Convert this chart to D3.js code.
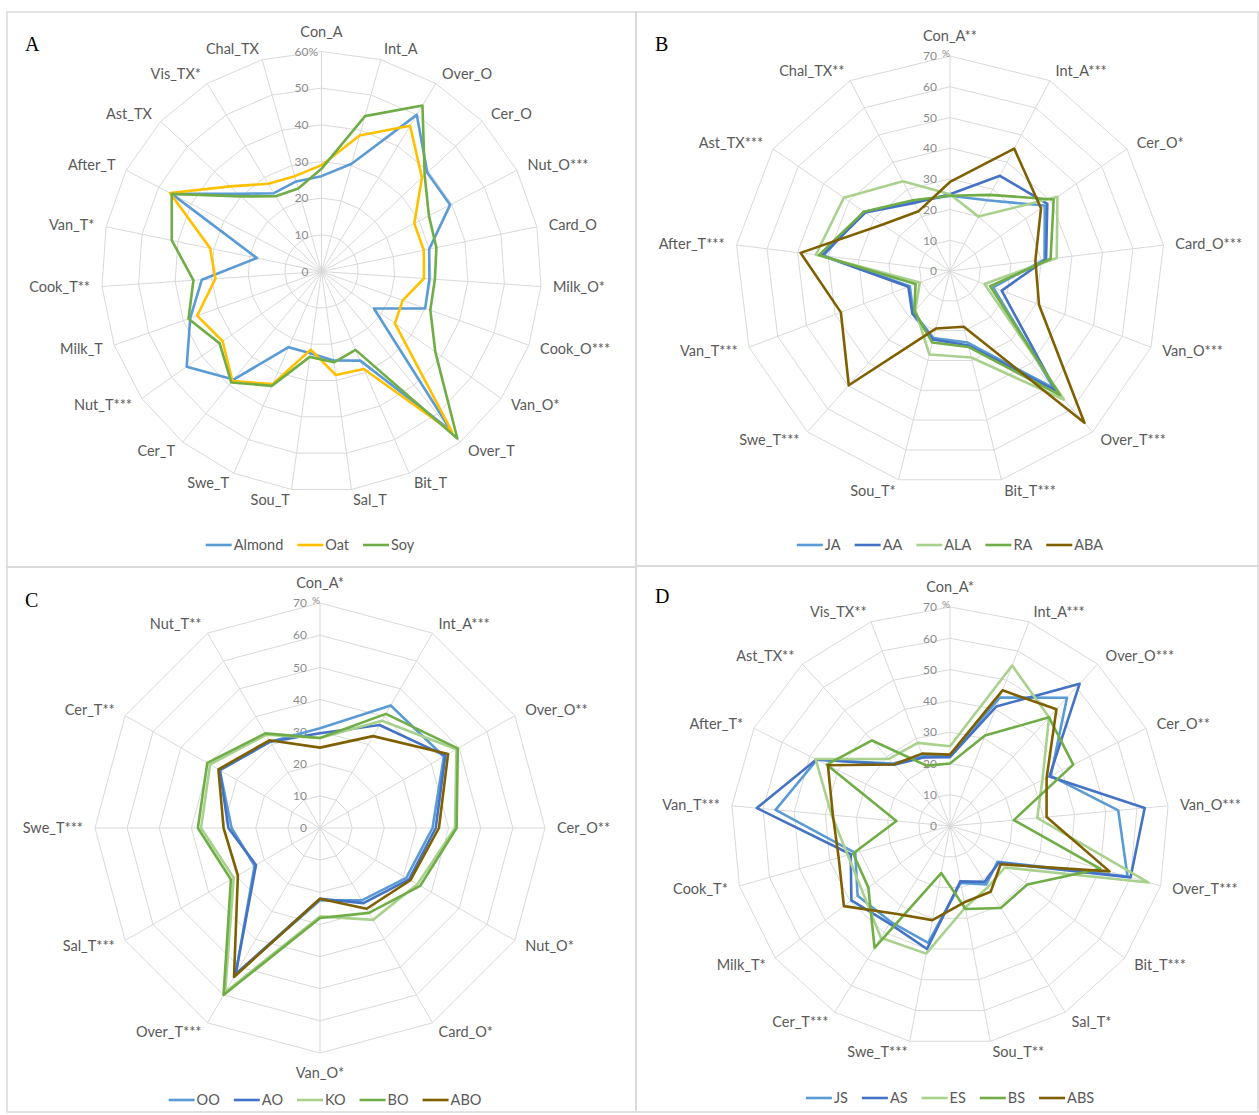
<!DOCTYPE html>
<html>
<head>
<meta charset="utf-8">
<script src="https://cdn.jsdelivr.net/npm/d3@7"></script>
<style>
  body { margin: 0; background: #fff; }
  text { font-family: Lato, "Liberation Sans", sans-serif; }
</style>
</head>
<body>
<div id="chart"></div>
<script>
// ---- data (values in %) ----
var catsA = ["Con_A", "Int_A", "Over_O", "Cer_O", "Nut_O***", "Card_O", "Milk_O*", "Cook_O***", "Van_O*",
  "Over_T", "Bit_T", "Sal_T", "Sou_T", "Swe_T", "Cer_T", "Nut_T***", "Milk_T", "Cook_T**", "Van_T*",
  "After_T", "Ast_TX", "Vis_TX*", "Chal_TX"];
var almond = [26, 30.5, 50, 39.5, 39.5, 30, 29.5, 30, 17.5, 56, 26.5, 24.5, 22.5, 22.5, 38, 45, 38, 32.7, 18, 46, 31, 25, 25.5];
var oat    = [29, 38.5, 46.5, 37.5, 28.5, 28.5, 28, 23.5, 24.5, 56.5, 29, 28.5, 21.5, 33.5, 38.5, 33, 36, 29, 31, 46.5, 34, 28, 27];
var soy    = [28, 44, 53, 38.5, 33, 32, 31, 31.5, 38, 58.7, 23.3, 25, 23.5, 34, 39, 34, 38.5, 35, 41.7, 46, 30, 24, 23.5];

var catsB = ["Con_A**", "Int_A***", "Cer_O*", "Card_O***", "Van_O***", "Over_T***", "Bit_T***", "Sou_T*",
  "Swe_T***", "Van_T***", "After_T***", "Ast_TX***", "Chal_TX**"];
var ja  = [24.5, 26, 37.5, 31, 15, 51, 24, 22.5, 18, 14, 41.5, 34, 25.5];
var aa  = [25, 35, 38.5, 31.5, 18, 52, 25, 23, 18.5, 14.5, 42, 33.5, 25];
var ala = [25, 20, 42.5, 35, 12, 56, 29, 28, 17, 10.5, 44, 42, 33];
var ra  = [24.5, 28, 41, 33, 14, 54, 25.5, 24, 17.5, 12, 43, 34, 26];
var aba = [29, 45, 36, 28, 31, 66, 18.7, 19.3, 49.7, 38, 49, 26.6, 22];

var catsC = ["Con_A*", "Int_A***", "Over_O**", "Cer_O**", "Nut_O*", "Card_O*", "Van_O*", "Over_T***",
  "Sal_T***", "Swe_T***", "Cer_T**", "Nut_T**"];
var oo  = [31, 44, 44.5, 35, 31, 26, 22.5, 52.5, 23.5, 27.5, 36, 31];
var ao  = [29.5, 37, 45, 36, 32, 27, 22, 52.5, 23, 28.5, 36, 31];
var ko  = [28, 38.5, 49, 42, 35, 33, 27.5, 59, 31, 37, 39.5, 33.5];
var bo  = [28, 41, 49.5, 42.5, 36, 30.5, 28, 60, 32, 38, 40.5, 34];
var abo = [25, 33, 46, 37, 32.5, 29, 22, 53.5, 29.5, 30, 36.5, 31.5];

var catsD = ["Con_A*", "Int_A***", "Over_O***", "Cer_O**", "Van_O***", "Over_T***", "Bit_T***", "Sal_T*",
  "Sou_T**", "Swe_T***", "Cer_T***", "Milk_T*", "Cook_T*", "Van_T***", "After_T*", "Ast_TX**", "Vis_TX**"];
var js  = [22.5, 44, 55.5, 36, 54, 59, 19, 22, 18.5, 38, 36, 37, 31.5, 56, 47.5, 27, 24];
var as  = [22, 41, 61.5, 35.5, 62.5, 60, 19.5, 21, 18, 40, 36.7, 39.5, 33, 62, 47.7, 26.5, 23.5];
var es  = [25.5, 55, 47, 33, 28, 66, 22, 23, 26.5, 41.5, 42, 35, 34, 38, 48, 29, 28.5];
var bs  = [20, 31, 47, 44, 20.5, 50, 31, 30.8, 27, 15.3, 45.8, 32.7, 32.2, 17.2, 44, 37, 20.7];
var abs = [22.8, 46.5, 50.5, 34.5, 31, 53, 20.3, 24.7, 24.8, 30.6, 33, 42.5, 37, 37.6, 43.6, 26.6, 24.8];

var ticksA = [0, 10, 20, 30, 40, 50, 60];
var ticksBCD = [0, 10, 20, 30, 40, 50, 60, 70];

var lightBlue = "#5b9bd5", darkBlue = "#4472c4", lightGreen = "#a9d18e",
    green = "#70ad47", yellow = "#ffc000", brown = "#7f6000";

var panels = [
  { letter: "A", lx: 25, ly: 51, box: [7, 12, 629, 555], cx: 321.5, cy: 271.5, R: 220, ticks: ticksA, pct: "%", pctGap: 0,
    cats: catsA, legendX: 310, legendY: 545,
    series: [{ name: "Almond", values: almond, color: lightBlue },
             { name: "Oat", values: oat, color: yellow },
             { name: "Soy", values: soy, color: green }] },
  { letter: "B", lx: 655, ly: 51, box: [636, 12, 622, 554], cx: 950, cy: 271, R: 215, ticks: ticksBCD, pct: "%", pctGap: 5,
    cats: catsB, legendX: 950, legendY: 545,
    series: [{ name: "JA", values: ja, color: lightBlue },
             { name: "AA", values: aa, color: darkBlue },
             { name: "ALA", values: ala, color: lightGreen },
             { name: "RA", values: ra, color: green },
             { name: "ABA", values: aba, color: brown }] },
  { letter: "C", lx: 25, ly: 607, box: [7, 567, 629, 545], cx: 320, cy: 828, R: 225, ticks: ticksBCD, pct: "%", pctGap: 5,
    cats: catsC, legendX: 325, legendY: 1100,
    series: [{ name: "OO", values: oo, color: lightBlue },
             { name: "AO", values: ao, color: darkBlue },
             { name: "KO", values: ko, color: lightGreen },
             { name: "BO", values: bo, color: green },
             { name: "ABO", values: abo, color: brown }] },
  { letter: "D", lx: 655, ly: 603, box: [636, 566, 622, 546], cx: 950, cy: 826, R: 219, ticks: ticksBCD, pct: "%", pctGap: 5,
    cats: catsD, legendX: 950, legendY: 1098,
    series: [{ name: "JS", values: js, color: lightBlue },
             { name: "AS", values: as, color: darkBlue },
             { name: "ES", values: es, color: lightGreen },
             { name: "BS", values: bs, color: green },
             { name: "ABS", values: abs, color: brown }] }
];

var svg = d3.select("#chart").append("svg")
    .attr("width", 1259)
    .attr("height", 1115);

svg.append("rect").attr("width", 1259).attr("height", 1115).attr("fill", "#fff");

panels.forEach(function(p) {
  var n = p.cats.length;
  var max = d3.max(p.ticks);
  var r = d3.scaleLinear().domain([0, max]).range([0, p.R]);
  var angle = d3.scaleLinear().domain([0, n]).range([0, 2 * Math.PI]);

  svg.append("rect")
    .attr("x", p.box[0]).attr("y", p.box[1])
    .attr("width", p.box[2]).attr("height", p.box[3])
    .attr("fill", "none")
    .attr("stroke", "#d9d9d9")
    .attr("stroke-width", 1.5);

  svg.append("text")
    .attr("x", p.lx).attr("y", p.ly)
    .style("font-family", "'Liberation Serif', 'DejaVu Serif', serif")
    .style("font-size", "20px")
    .attr("fill", "#000")
    .text(p.letter);

  var g = svg.append("g")
    .attr("transform", "translate(" + p.cx + "," + p.cy + ")");

  var idx = d3.range(n);

  // rings
  var ring = d3.lineRadial()
    .angle(function(i) { return angle(i); })
    .curve(d3.curveLinearClosed);

  g.selectAll(".ring")
    .data(p.ticks.filter(function(t) { return t > 0; }))
    .enter().append("path")
    .attr("class", "ring")
    .attr("d", function(t) { return ring.radius(r(t))(idx); })
    .attr("fill", "none")
    .attr("stroke", "#d9d9d9")
    .attr("stroke-width", 1);

  // spokes
  g.selectAll(".spoke")
    .data(idx)
    .enter().append("line")
    .attr("class", "spoke")
    .attr("x1", 0).attr("y1", 0)
    .attr("x2", function(i) { return r(max) * Math.sin(angle(i)); })
    .attr("y2", function(i) { return -r(max) * Math.cos(angle(i)); })
    .attr("stroke", "#d9d9d9")
    .attr("stroke-width", 1);

  // tick labels
  g.selectAll(".tick")
    .data(p.ticks)
    .enter().append("text")
    .attr("class", "tick")
    .attr("x", -13)
    .attr("y", function(t) { return -r(t); })
    .attr("dy", "0.35em")
    .attr("text-anchor", "end")
    .attr("fill", "#8c8c8c")
    .style("font-size", "12px")
    .text(function(t) { return t; });

  g.append("text")
    .attr("x", -13 + p.pctGap)
    .attr("y", -r(max) - (p.pctGap ? 3 : 0))
    .attr("dy", "0.35em")
    .attr("fill", "#8c8c8c")
    .style("font-size", p.pctGap ? "10px" : "12px")
    .text(p.pct);

  // category labels
  g.selectAll(".cat")
    .data(p.cats)
    .enter().append("text")
    .attr("class", "cat")
    .attr("x", function(d, i) { return (p.R + 12) * Math.sin(angle(i)); })
    .attr("y", function(d, i) {
      var c = Math.cos(angle(i)), s = Math.sin(angle(i));
      var extra = Math.abs(s) < 0.05 ? 9 : 0;
      return -(p.R + 11 + extra) * c;
    })
    .attr("dy", "0.35em")
    .attr("text-anchor", function(d, i) {
      var s = Math.sin(angle(i));
      return Math.abs(s) < 0.05 ? "middle" : (s > 0 ? "start" : "end");
    })
    .attr("fill", "#595959")
    .style("font-size", "14.5px")
    .text(function(d) { return d; });

  // series
  var line = d3.lineRadial()
    .angle(function(d, i) { return angle(i); })
    .radius(function(d) { return r(d); })
    .curve(d3.curveLinearClosed);

  g.selectAll(".series")
    .data(p.series)
    .enter().append("path")
    .attr("class", "series")
    .attr("d", function(s) { return line(s.values); })
    .attr("fill", "none")
    .attr("stroke", function(s) { return s.color; })
    .attr("stroke-width", 2.6)
    .attr("stroke-linejoin", "round");

  // legend
  var leg = svg.append("g");
  var xpos = 0;
  p.series.forEach(function(s) {
    var it = leg.append("g").attr("transform", "translate(" + xpos + ",0)");
    it.append("line")
      .attr("x1", 0).attr("x2", 26)
      .attr("y1", 0).attr("y2", 0)
      .attr("stroke", s.color)
      .attr("stroke-width", 2.6);
    var t = it.append("text")
      .attr("x", 28).attr("dy", "0.35em")
      .attr("fill", "#595959")
      .style("font-size", "14.5px")
      .text(s.name);
    xpos += 28 + t.node().getComputedTextLength() + 14;
  });
  var total = xpos - 14;
  leg.attr("transform", "translate(" + (p.legendX - total / 2) + "," + p.legendY + ")");
});
</script>
</body>
</html>
